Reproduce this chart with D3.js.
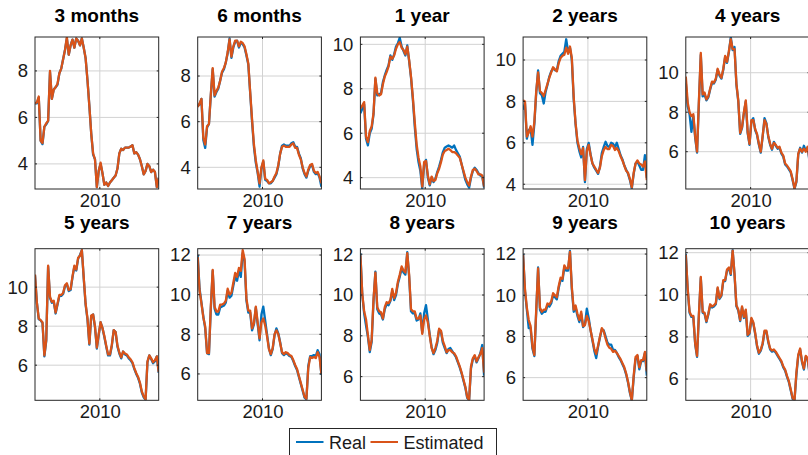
<!DOCTYPE html>
<html>
<head>
<meta charset="utf-8">
<script src="https://cdn.jsdelivr.net/npm/d3@7"></script>
<style>
  html, body { margin: 0; padding: 0; background: #fff; overflow: hidden; }
  svg { display: block; font-family: "Liberation Sans", Arial, Helvetica, sans-serif; }
</style>
</head>
<body>
<svg id="chart" width="808" height="455"></svg>
<script>
// Yield curve fit: observed ("Real") vs model ("Estimated") rates by maturity.
const maturities = ["3 months", "6 months", "1 year", "2 years", "4 years",
                    "5 years", "7 years", "8 years", "9 years", "10 years"];

// Axis ranges per maturity (tight to the data)
const yDomains = [[2.92, 9.46], [3.05, 9.71], [3.49, 10.33], [3.77, 11.11], [4.11, 11.81],
                  [4.2, 11.97], [4.67, 12.32], [4.84, 12.27], [4.9, 12.26], [4.99, 12.19]];

const xTickYears = [2010];
const legendLabels = ["Real", "Estimated"];
const firstObs = 2006.5, lastObs = 2013.18;   // sample period, in years

const real3m = [6.6,6.6,6.85,5.0,4.85,5.6,5.7,5.85,7.95,6.8, 7.2,7.3,7.4,7.9,8.1,8.5,8.9,9.4,8.7,9.1,
  9.35,9.0,9.4,9.3,9.1,9.4,9.0,8.55,7.6,6.5, 5.3,4.4,4.2,3.0,3.7,4.0,3.6,3.1,3.2,3.05,
  3.2,3.3,3.4,3.5,3.8,4.45,4.65,4.6,4.7,4.7, 4.7,4.75,4.8,4.45,4.5,4.4,4.2,3.9,3.55,3.7,
  4.0,3.9,3.65,3.75,3.65,3.0,3.4];
const est3m = [6.6,6.65,6.9,5.0,4.9,5.6,5.75,5.85,8.0,6.8, 7.2,7.3,7.45,7.9,8.1,8.5,8.9,9.45,8.7,9.1,
  9.35,9.0,9.4,9.3,9.1,9.4,9.0,8.55,7.6,6.5, 5.3,4.45,4.2,3.0,3.7,4.05,3.6,3.1,3.2,3.05,
  3.2,3.3,3.4,3.5,3.8,4.45,4.65,4.6,4.7,4.7, 4.7,4.75,4.8,4.45,4.5,4.4,4.2,3.9,3.55,3.7,
  4.0,3.9,3.65,3.75,3.65,3.0,3.4];

const real6m = [6.7,6.75,7.0,5.2,4.85,5.75,5.9,7.15,8.3,7.1, 7.3,7.45,7.8,8.15,8.3,8.6,9.0,9.65,8.8,9.25,
  9.5,9.55,9.25,9.45,9.4,9.25,8.9,8.5,7.25,6.0, 4.9,4.2,3.75,3.15,3.95,4.25,3.45,3.4,3.3,3.3,
  3.4,3.55,3.7,4.05,4.6,4.95,5.0,4.95,4.95,4.95, 5.05,5.1,4.9,4.9,4.6,4.4,3.95,3.7,3.55,3.85,
  4.05,4.1,3.8,3.7,3.75,3.55,3.15];
const est6m = [6.65,6.8,7.0,5.3,5.0,5.8,5.9,7.2,8.35,7.15, 7.35,7.5,7.8,8.2,8.35,8.6,9.05,9.6,8.85,9.3,
  9.55,9.55,9.3,9.5,9.45,9.3,8.95,8.55,7.3,6.1, 5.0,4.3,3.8,3.3,4.0,4.3,3.5,3.45,3.3,3.35,
  3.4,3.6,3.75,4.1,4.6,4.9,4.95,4.9,4.9,4.9, 5.0,5.05,4.85,4.85,4.55,4.35,4.0,3.75,3.6,3.9,
  4.1,4.15,3.85,3.75,3.8,3.6,3.3];

const real1y = [6.9,7.1,7.3,5.75,5.45,6.0,6.2,6.85,8.45,7.7, 7.75,7.8,8.3,8.6,8.85,9.05,9.5,9.3,9.55,9.9,
  10.05,10.3,9.9,9.7,9.5,9.95,9.25,8.5,7.5,6.3, 5.3,4.7,4.3,3.5,4.6,4.8,4.0,3.65,4.0,3.8,
  3.95,4.25,4.5,4.8,5.15,5.35,5.4,5.45,5.4,5.35, 5.45,5.25,5.1,4.95,4.6,4.25,3.9,3.7,3.55,4.0,
  4.3,4.45,4.35,4.2,4.1,4.05,3.55];
const est1y = [7.1,7.25,7.4,5.85,5.6,6.1,6.3,6.9,8.5,7.8, 7.7,7.75,8.2,8.55,8.75,9.0,9.45,9.35,9.5,9.8,
  10.0,10.1,9.85,9.75,9.55,9.9,9.3,8.55,7.6,6.5, 5.5,4.9,4.5,3.6,4.7,4.75,4.1,3.7,4.05,3.85,
  3.9,4.2,4.4,4.7,5.05,5.2,5.25,5.3,5.25,5.15, 5.15,5.1,5.0,4.9,4.6,4.3,4.0,3.8,3.65,4.05,
  4.35,4.4,4.3,4.15,4.15,4.1,3.6];

const real2y = [7.6,7.9,6.2,6.6,6.7,5.9,6.9,8.4,9.5,8.4, 8.3,7.9,8.45,8.8,9.2,9.45,9.6,9.5,9.5,9.95,
  10.2,10.3,10.4,11.0,10.4,10.6,10.0,8.1,6.9,6.0, 5.6,5.3,5.8,4.1,5.7,6.0,5.45,5.0,4.8,4.65,
  4.5,4.85,5.5,5.8,6.05,5.85,5.8,6.0,5.95,5.8, 6.0,5.7,5.4,5.2,4.9,4.7,4.5,4.2,3.8,4.5,
  5.0,5.1,4.9,4.7,4.7,5.4,4.3];
const est2y = [8.05,8.0,6.3,6.5,6.8,6.3,7.0,8.5,9.4,8.5, 8.4,8.25,8.55,8.85,9.15,9.4,9.65,9.55,9.45,9.85,
  10.1,10.2,10.25,10.6,10.3,10.65,10.1,8.2,6.95,6.1, 5.75,5.45,5.75,4.2,5.6,5.9,5.4,5.0,4.85,4.7,
  4.55,4.8,5.35,5.65,5.8,5.7,5.7,5.9,5.85,5.65, 5.75,5.6,5.35,5.15,4.9,4.65,4.55,4.25,3.85,4.55,
  5.0,5.15,5.0,4.95,4.85,5.1,4.2];

const real4y = [9.5,8.3,7.9,7.0,7.8,6.7,5.95,8.5,10.9,8.8, 8.9,8.6,8.75,9.15,9.5,9.45,9.65,10.15,9.85,9.7,
  10.15,10.8,10.5,11.05,11.8,11.15,11.3,9.4,8.55,6.9, 7.2,7.95,8.55,6.95,6.35,7.55,7.7,7.1,6.85,6.35,
  5.95,6.75,7.7,7.45,6.75,6.35,6.1,6.5,6.3,6.15, 6.2,5.9,5.75,5.35,5.25,5.1,4.95,4.55,4.12,4.45,
  5.85,6.2,5.95,6.3,6.05,6.2,5.5];
const est4y = [9.8,8.5,8.0,7.8,7.9,6.8,6.0,8.6,11.0,8.9, 9.0,8.65,8.8,9.2,9.55,9.5,9.7,10.2,9.9,9.75,
  10.2,10.85,10.55,11.1,11.7,11.2,11.2,9.45,8.6,6.95, 7.25,8.0,8.6,7.0,6.4,7.6,7.6,7.15,6.9,6.4,
  6.0,6.8,7.6,7.4,6.8,6.4,6.15,6.45,6.35,6.2, 6.25,5.95,5.8,5.4,5.3,5.15,5.0,4.6,4.15,4.5,
  5.9,6.15,6.0,6.15,6.0,6.25,5.6];

const real5y = [10.6,9.2,8.35,8.3,8.15,6.45,7.25,11.05,9.45,9.2, 9.25,8.65,9.1,9.55,9.55,9.65,10.05,10.15,9.8,9.85,
  10.5,11.05,10.85,11.45,11.65,11.9,10.45,9.1,8.35,7.05, 8.5,8.6,7.95,6.85,7.55,8.2,7.9,7.45,6.95,6.5,
  6.5,7.0,7.8,7.7,6.95,6.6,6.35,6.7,6.55,6.5, 6.35,6.25,6.1,5.8,5.55,5.35,5.05,4.6,4.35,4.22,
  6.15,6.5,6.3,6.1,6.2,6.45,5.6];
const est5y = [10.65,9.2,8.4,8.3,8.2,6.5,7.3,11.1,9.5,9.25, 9.3,8.7,9.15,9.6,9.6,9.7,10.1,10.2,9.85,9.9,
  10.55,11.1,10.9,11.5,11.6,11.9,10.5,9.15,8.4,7.1, 8.55,8.6,8.0,6.9,7.6,8.2,7.9,7.5,7.0,6.55,
  6.55,7.05,7.8,7.7,7.0,6.65,6.4,6.7,6.6,6.55, 6.4,6.3,6.15,5.85,5.6,5.4,5.1,4.65,4.4,4.25,
  6.2,6.5,6.35,6.15,6.25,6.45,5.65];

const real7y = [12.0,10.3,9.6,8.9,8.3,7.05,7.0,9.3,11.2,9.3, 9.0,9.0,9.35,9.4,9.45,9.6,10.2,9.85,9.95,10.45,
  10.9,10.7,11.2,10.9,12.1,11.7,9.7,9.1,9.1,8.2, 8.5,9.35,8.5,7.7,9.0,9.4,8.7,8.0,7.3,6.95,
  7.25,7.95,8.3,8.05,7.6,7.05,6.95,7.05,7.0,6.9, 6.85,6.65,6.4,6.2,5.85,5.5,5.15,4.8,4.72,6.4,
  6.9,6.9,6.95,6.9,7.2,7.0,5.95];
const est7y = [11.9,10.2,9.55,8.85,8.4,7.05,7.05,9.4,11.25,9.4, 9.15,9.15,9.5,9.5,9.55,9.7,10.3,10.0,10.1,10.6,
  11.1,10.9,11.35,11.2,12.25,11.8,9.8,9.2,9.2,8.3, 8.55,9.4,8.6,7.8,8.6,8.8,8.45,7.9,7.25,7.0,
  7.3,8.0,8.2,8.0,7.55,7.1,7.0,7.1,7.05,6.95, 6.9,6.7,6.45,6.25,5.9,5.55,5.2,4.85,4.75,6.3,
  6.85,6.8,6.85,6.8,7.1,6.85,6.0];

const real8y = [12.05,10.0,9.1,8.5,7.95,7.2,7.7,9.7,11.15,9.3, 9.1,9.05,8.8,9.3,9.55,9.5,9.7,10.2,9.75,10.0,
  10.55,10.9,11.3,11.1,11.0,12.1,10.9,9.2,9.1,9.1, 8.75,8.8,9.1,8.15,9.1,9.5,8.8,8.05,7.45,7.1,
  7.3,7.65,8.3,8.2,7.65,7.4,7.15,7.35,7.4,7.25, 7.1,6.95,6.7,6.45,6.15,5.8,5.45,4.95,4.85,6.4,
  6.85,7.0,6.7,6.9,7.15,7.55,6.05];
const est8y = [11.95,10.05,9.2,8.8,8.05,7.3,7.8,9.8,11.1,9.4, 9.2,9.15,8.85,9.4,9.65,9.6,9.75,10.3,9.85,10.1,
  10.65,11.0,11.4,11.2,11.1,12.05,11.0,9.3,9.2,9.2, 8.85,8.85,9.0,8.1,8.8,9.0,8.65,8.0,7.4,7.15,
  7.4,7.75,8.35,8.25,7.75,7.5,7.2,7.3,7.3,7.2, 7.15,7.0,6.75,6.5,6.2,5.85,5.5,5.0,4.85,6.5,
  6.9,7.05,6.75,6.95,7.1,7.4,6.2];

const real9y = [12.0,10.2,9.3,8.4,8.4,7.4,7.05,9.2,11.35,9.3, 9.1,9.2,9.2,9.5,9.45,9.6,10.0,9.9,9.8,10.35,
  10.75,10.7,11.35,11.2,11.2,12.15,10.3,9.2,9.4,9.0, 8.7,9.1,8.45,8.6,9.35,8.9,8.3,7.8,7.3,6.95,
  7.5,7.95,8.35,8.3,8.0,7.7,7.6,7.6,7.35,7.35, 7.2,7.0,6.85,6.65,6.45,6.15,5.75,5.25,4.88,6.0,
  6.9,7.05,6.4,6.8,6.8,7.2,6.1];
const est9y = [11.95,10.3,9.4,8.8,8.5,7.5,7.1,9.3,11.3,9.4, 9.2,9.3,9.3,9.6,9.55,9.7,10.1,10.0,9.9,10.45,
  10.85,10.8,11.45,11.3,11.3,12.1,10.4,9.3,9.5,9.1, 8.8,9.2,8.5,8.55,9.0,8.75,8.3,7.85,7.4,7.15,
  7.55,8.0,8.4,8.25,7.9,7.6,7.45,7.4,7.25,7.3, 7.2,7.05,6.9,6.7,6.5,6.2,5.8,5.3,4.9,6.1,
  7.0,7.1,6.5,6.85,6.85,7.25,6.3];

const real10y = [11.95,10.25,9.15,8.95,8.95,7.65,7.05,9.05,10.8,9.15, 9.1,8.7,9.05,9.5,9.4,9.45,9.55,10.3,9.8,9.95,
  10.65,10.65,11.15,11.25,10.95,12.12,10.95,9.45,9.25,8.75, 9.4,8.9,9.25,8.05,8.15,8.85,8.65,8.15,7.55,7.2,
  7.35,7.65,8.25,8.25,7.75,7.4,7.3,7.35,7.25,7.1, 6.95,6.8,6.55,6.4,6.1,5.85,5.45,5.05,5.0,6.2,
  7.1,7.4,6.8,6.45,7.05,6.95,6.25];
const est10y = [11.9,10.3,9.2,9.0,9.0,7.7,7.1,9.1,10.85,9.2, 9.15,8.75,9.1,9.55,9.45,9.5,9.6,10.35,9.85,10.0,
  10.7,10.7,11.2,11.3,11.0,12.1,11.0,9.5,9.3,8.8, 9.45,8.95,9.3,8.1,8.2,8.9,8.7,8.2,7.6,7.25,
  7.4,7.7,8.3,8.3,7.8,7.45,7.35,7.4,7.3,7.15, 7.0,6.85,6.6,6.45,6.15,5.9,5.5,5.1,5.0,6.3,
  7.15,7.45,6.85,6.5,7.1,7.0,6.3];

const realSeries = [real3m, real6m, real1y, real2y, real4y, real5y, real7y, real8y, real9y, real10y];
const estSeries  = [est3m, est6m, est1y, est2y, est4y, est5y, est7y, est8y, est9y, est10y];

// Observation dates: evenly spaced over the sample period
const nObs = real3m.length;
const obsTimes = d3.range(nObs).map(i => firstObs + (lastObs - firstObs) * i / (nObs - 1));

// ---- layout ----
const colors = { real: "#0072BD", est: "#D95319" };
const textColor = "#1a1a1a";
const plotW = 123.7;
const colLeft = c => 35 + c * 162.7;
const rowTop = [37, 248.7], rowBottom = [189, 400.3];
const titleBase = [22, 229];

const svg = d3.select("#chart");

maturities.forEach((name, i) => {
  const r = Math.floor(i / 5), c = i % 5;
  const left = colLeft(c), top = rowTop[r], bottom = rowBottom[r];

  const x = d3.scaleLinear().domain([firstObs, lastObs]).range([left, left + plotW]);
  const y = d3.scaleLinear().domain(yDomains[i]).range([bottom, top]);

  const g = svg.append("g").attr("class", "panel");

  const clipId = "clip" + i;
  g.append("clipPath").attr("id", clipId)
    .append("rect").attr("x", left).attr("y", top).attr("width", plotW).attr("height", bottom - top);

  // y tick values every 2 units inside the range
  const [lo, hi] = yDomains[i];
  const yTicks = d3.range(Math.ceil(lo / 2) * 2, hi + 1e-9, 2);

  // grid
  g.append("g").selectAll("line").data(yTicks).join("line")
    .attr("x1", left).attr("x2", left + plotW)
    .attr("y1", d => y(d)).attr("y2", d => y(d))
    .attr("stroke", "#d2d2d2").attr("stroke-width", 1);
  g.append("g").selectAll("line").data(xTickYears).join("line")
    .attr("x1", d => x(d)).attr("x2", d => x(d))
    .attr("y1", top).attr("y2", bottom)
    .attr("stroke", "#d2d2d2").attr("stroke-width", 1);

  // series: observed underneath, model on top
  const line = d3.line().x((d, k) => x(obsTimes[k])).y(d => y(d));
  const lines = g.append("g").attr("clip-path", `url(#${clipId})`);
  lines.append("path").datum(realSeries[i]).attr("d", line)
    .attr("fill", "none").attr("stroke", colors.real).attr("stroke-width", 2.3).attr("stroke-linejoin", "round");
  lines.append("path").datum(estSeries[i]).attr("d", line)
    .attr("fill", "none").attr("stroke", colors.est).attr("stroke-width", 2.3).attr("stroke-linejoin", "round");

  // inward tick marks
  const tk = g.append("g").attr("stroke", "#262626").attr("stroke-width", 1);
  yTicks.forEach(v => {
    tk.append("line").attr("x1", left).attr("x2", left + 2).attr("y1", y(v)).attr("y2", y(v));
    tk.append("line").attr("x1", left + plotW).attr("x2", left + plotW - 2).attr("y1", y(v)).attr("y2", y(v));
  });
  xTickYears.forEach(v => {
    tk.append("line").attr("x1", x(v)).attr("x2", x(v)).attr("y1", bottom).attr("y2", bottom - 2);
    tk.append("line").attr("x1", x(v)).attr("x2", x(v)).attr("y1", top).attr("y2", top + 2);
  });

  // box
  g.append("rect").attr("x", left).attr("y", top).attr("width", plotW).attr("height", bottom - top)
    .attr("fill", "none").attr("stroke", "#262626").attr("stroke-width", 1);

  // axis labels
  const yAxis = d3.axisLeft(y).tickValues(yTicks).tickSize(0).tickPadding(7).tickFormat(d3.format("d"));
  const ya = g.append("g").attr("transform", `translate(${left},0)`).call(yAxis);
  ya.select(".domain").remove();
  ya.selectAll("text").attr("font-size", 18.5).attr("fill", textColor).attr("font-family", null);

  const xAxis = d3.axisBottom(x).tickValues(xTickYears).tickSize(0).tickPadding(5).tickFormat(d3.format("d"));
  const xa = g.append("g").attr("transform", `translate(0,${bottom})`).call(xAxis);
  xa.select(".domain").remove();
  xa.selectAll("text").attr("font-size", 18.5).attr("fill", textColor).attr("font-family", null);

  // title
  g.append("text").attr("x", left + plotW / 2).attr("y", titleBase[r])
    .attr("text-anchor", "middle").attr("font-size", 19).attr("font-weight", "bold")
    .attr("fill", "#000").text(name);
});

// legend
const lg = svg.append("g").attr("class", "legend");
lg.append("rect").attr("x", 289.5).attr("y", 428.5).attr("width", 207).attr("height", 40)
  .attr("fill", "#fff").attr("stroke", "#262626").attr("stroke-width", 1);
const legendItems = [
  { label: legendLabels[0], color: colors.real, x0: 296 },
  { label: legendLabels[1], color: colors.est, x0: 370.5 }
];
legendItems.forEach(it => {
  lg.append("line").attr("x1", it.x0).attr("x2", it.x0 + 27.5).attr("y1", 442).attr("y2", 442)
    .attr("stroke", it.color).attr("stroke-width", 2);
  lg.append("text").attr("x", it.x0 + 33).attr("y", 448.5).attr("font-size", 18)
    .attr("fill", textColor).text(it.label);
});
</script>
</body>
</html>
